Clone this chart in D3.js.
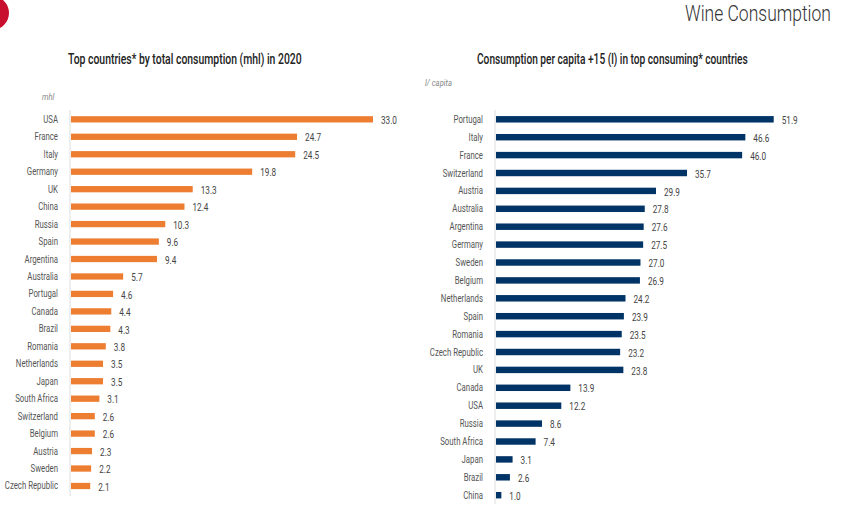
<!DOCTYPE html>
<html>
<head>
<meta charset="utf-8">
<script src="https://cdn.jsdelivr.net/npm/d3@7"></script>
<style>
  html, body { margin: 0; padding: 0; background: #fff; }
  svg { display: block; }
  text { font-family: "Roboto", "Liberation Sans", sans-serif; }
</style>
</head>
<body>
<svg id="chart" width="857" height="520"></svg>
<script>
// ---- Data ----
const totalCountries = ["USA","France","Italy","Germany","UK","China","Russia","Spain","Argentina","Australia","Portugal","Canada","Brazil","Romania","Netherlands","Japan","South Africa","Switzerland","Belgium","Austria","Sweden","Czech Republic"];
const totalValues = [33.0,24.7,24.5,19.8,13.3,12.4,10.3,9.6,9.4,5.7,4.6,4.4,4.3,3.8,3.5,3.5,3.1,2.6,2.6,2.3,2.2,2.1];

const capitaCountries = ["Portugal","Italy","France","Switzerland","Austria","Australia","Argentina","Germany","Sweden","Belgium","Netherlands","Spain","Romania","Czech Republic","UK","Canada","USA","Russia","South Africa","Japan","Brazil","China"];
const capitaValues = [51.9,46.6,46.0,35.7,29.9,27.8,27.6,27.5,27.0,26.9,24.2,23.9,23.5,23.2,23.8,13.9,12.2,8.6,7.4,3.1,2.6,1.0];

const svg = d3.select("#chart");
const CONDENSE = 0.78;

// text placed at (x,y) with horizontal condensation
function ctext(parent, x, y, str, sx) {
  return parent.append("text")
    .attr("transform", `translate(${x},${y}) scale(${sx},1)`)
    .text(str);
}
// text fitted to a target width
function fitText(parent, x, y, str, width) {
  const t = parent.append("text").attr("transform", `translate(${x},${y})`).text(str);
  return t;
}
function applyFit(t, x, y, width) {
  const w = t.node().getComputedTextLength();
  t.attr("transform", `translate(${x},${y}) scale(${width / w},1)`);
}

// Header
svg.append("circle").attr("cx", -8).attr("cy", 13).attr("r", 17).attr("fill", "#c8102e");
const wt = svg.append("text").attr("font-size", 22).attr("font-weight", 300).attr("fill", "#333")
  .text("Wine Consumption");
applyFit(wt, 685, 20.5, 146);

function drawPanel(opts) {
  const { cats, vals, color, x0, x1, max, y0, step, labelX, title, titleX, titleLen, unit, unitX, unitY, axisY0, axisY1 } = opts;
  const g = svg.append("g");
  const y = d3.scaleBand().domain(cats).range([y0, y0 + step * cats.length])
    .paddingInner(0.64).paddingOuter(0.32);
  const x = d3.scaleLinear().domain([0, max]).range([x0, x1]);

  const tt = g.append("text").attr("font-size", 14).attr("font-weight", 500)
    .attr("fill", "#222").text(title);
  applyFit(tt, titleX, 64, titleLen);

  g.append("text").attr("transform", `translate(${unitX},${unitY}) scale(0.85,1)`)
    .attr("font-size", 9).attr("font-style", "italic")
    .attr("fill", "#888").text(unit);

  g.append("line").attr("x1", x0 - 1).attr("x2", x0 - 1).attr("y1", axisY0).attr("y2", axisY1)
    .attr("stroke", "#ddd").attr("stroke-width", 1);

  g.selectAll("rect.bar").data(vals).join("rect").attr("class", "bar")
    .attr("x", x(0)).attr("y", (d, i) => y(cats[i]))
    .attr("width", d => x(d) - x(0)).attr("height", y.bandwidth())
    .attr("fill", color);

  g.selectAll("text.cat").data(cats).join("text").attr("class", "cat")
    .attr("transform", d => `translate(${labelX},${y(d) + y.bandwidth() / 2}) scale(${CONDENSE},1)`)
    .attr("dy", "0.35em").attr("text-anchor", "end")
    .attr("font-size", 10).attr("fill", "#555").text(d => d);

  g.selectAll("text.val").data(vals).join("text").attr("class", "val")
    .attr("transform", (d, i) => `translate(${x(d) + 8},${y(cats[i]) + y.bandwidth() / 2 + 1}) scale(${CONDENSE},1)`)
    .attr("dy", "0.35em")
    .attr("font-size", 10.5).attr("fill", "#444").text(d => d.toFixed(1));
}

drawPanel({
  cats: totalCountries, vals: totalValues, color: "#ed7d31",
  x0: 71, x1: 373, max: 33.0, y0: 110.6, step: 17.46, labelX: 58,
  title: "Top countries* by total consumption (mhl) in 2020", titleX: 68, titleLen: 234,
  unit: "mhl", unitX: 42, unitY: 100, axisY0: 110, axisY1: 496
});

drawPanel({
  cats: capitaCountries, vals: capitaValues, color: "#003366",
  x0: 496, x1: 773.7, max: 51.9, y0: 110.35, step: 17.9, labelX: 483,
  title: "Consumption per capita +15 (l) in top consuming* countries", titleX: 477, titleLen: 271,
  unit: "l/ capita", unitX: 425, unitY: 86, axisY0: 110, axisY1: 504
});
</script>
</body>
</html>
